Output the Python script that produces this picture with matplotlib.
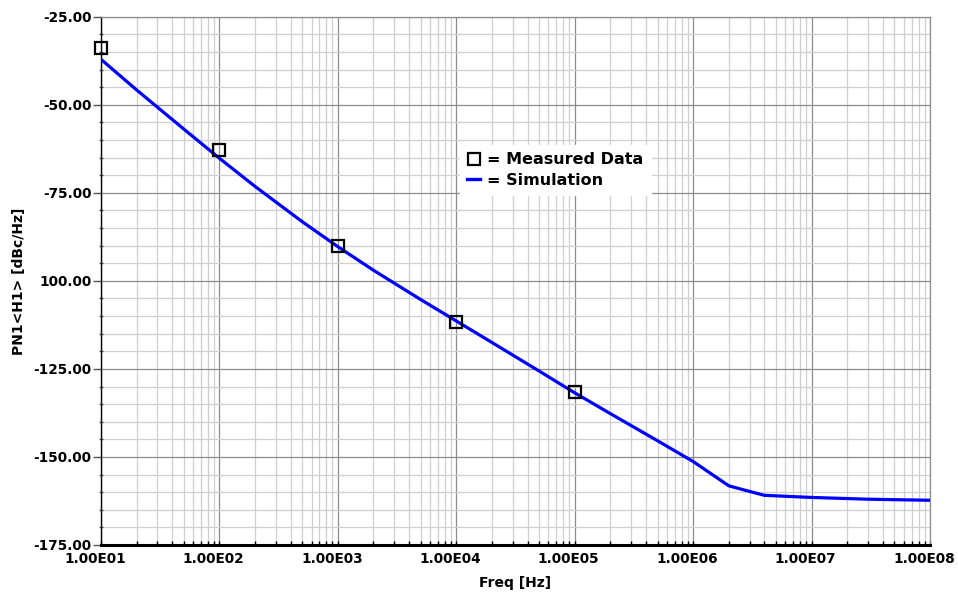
import numpy as np
import matplotlib
matplotlib.use('Agg')
from matplotlib import pyplot as plt
from matplotlib import ticker
from matplotlib.lines import Line2D
from matplotlib.transforms import ScaledTranslation

# simulated phase noise curve
sim_freq = [1e1, 2e1, 5e1, 1e2, 2e2, 5e2, 1e3, 2e3, 5e3, 1e4, 2e4, 5e4,
            1e5, 2e5, 5e5, 1e6, 2e6, 3e6, 4e6, 1e7, 3e7, 1e8]
sim_pn = [-37.1, -45.8, -56.9, -65.2, -73.2, -83.2, -90.3, -97.0, -105.3,
          -111.4, -117.5, -125.6, -131.8, -137.7, -145.4, -151.3, -158.2,
          -159.8, -160.9, -161.5, -162.0, -162.3]

# measured points
meas_freq = [1e1, 1e2, 1e3, 1e4, 1e5]
meas_pn = [-34.0, -62.8, -90.0, -111.6, -131.6]

y_ticks = [-175, -150, -125, -100, -75, -50, -25]
y_labels = ['-175.00', '-150.00', '-125.00', '100.00', '-75.00', '-50.00', '-25.00']
x_ticks = [1e1, 1e2, 1e3, 1e4, 1e5, 1e6, 1e7, 1e8]
x_labels = ['1.00E01', '1.00E02', '1.00E03', '1.00E04', '1.00E05',
            '1.00E06', '1.00E07', '1.00E08']

plt.rcParams['font.family'] = ['DejaVu Sans']
plt.rcParams['font.weight'] = 'bold'

fig = plt.figure(figsize=(9.58, 5.94), dpi=100)
ax = fig.add_axes([0.1054, 0.0825, 0.8654, 0.8894])

ax.plot(sim_freq, sim_pn, color='#0000ff', lw=2.3, solid_joinstyle='round', zorder=3)
ax.plot(meas_freq, meas_pn, ls='none', marker='s', ms=9, mew=1.6,
        mec='black', mfc='none', zorder=4, clip_on=False)

ax.set_xscale('log')
ax.set_xlim(1e1, 1e8)
ax.set_ylim(-175, -25)

ax.set_xticks(x_ticks)
ax.set_xticklabels(x_labels)
ax.xaxis.set_minor_locator(ticker.LogLocator(base=10, subs=np.arange(2, 10), numticks=100))
ax.xaxis.set_minor_formatter(ticker.NullFormatter())
ax.set_yticks(y_ticks)
ax.set_yticklabels(y_labels)
ax.yaxis.set_minor_locator(ticker.MultipleLocator(5))

ax.grid(which='major', color='#8c8c8c', lw=0.9)
ax.grid(which='minor', color='#cfcfcf', lw=0.9)
ax.set_axisbelow(True)

ax.tick_params(axis='x', which='both', direction='in', length=3, width=1,
               color='black', labelsize=9.8, pad=5)
ax.tick_params(axis='y', which='major', direction='out', length=6, width=1,
               color='#555555', labelsize=9.8, pad=0.7)
ax.tick_params(axis='y', which='minor', direction='inout', length=3, width=1,
               color='#555555')

# shift x tick labels a little to the left like the original
offset = ScaledTranslation(-0.06, 0, fig.dpi_scale_trans)
for lab in ax.get_xticklabels():
    lab.set_transform(lab.get_transform() + offset)

ax.spines['left'].set_color('black')
ax.spines['left'].set_linewidth(1.0)
ax.spines['bottom'].set_color('black')
ax.spines['bottom'].set_linewidth(2.2)
ax.spines['top'].set_color('#8c8c8c')
ax.spines['top'].set_linewidth(0.9)
ax.spines['right'].set_color('#8c8c8c')
ax.spines['right'].set_linewidth(0.9)

ax.set_xlabel('Freq [Hz]', fontsize=10, fontweight='bold')
ax.set_ylabel('PN1<H1> [dBc/Hz]', fontsize=10, fontweight='bold')
ax.xaxis.set_label_coords(0.5, -0.058)
ax.yaxis.set_label_coords(-0.091, 0.5)

# legend
handles = [Line2D([], [], ls='none', marker='s', ms=9, mew=1.6, mec='black', mfc='none'),
           Line2D([], [], color='#0000ff', lw=2.4)]
leg = ax.legend(handles, ['= Measured Data', '= Simulation'],
                loc='upper left', bbox_to_anchor=(0.433, 0.757), borderaxespad=0,
                fontsize=11.5, handlelength=0.8, handletextpad=0.45,
                labelspacing=0.35, borderpad=0.45, frameon=True, fancybox=False,
                framealpha=1.0, edgecolor='white', facecolor='white')
for t in leg.get_texts():
    t.set_fontweight('bold')

fig.savefig('out.png', dpi=100)
